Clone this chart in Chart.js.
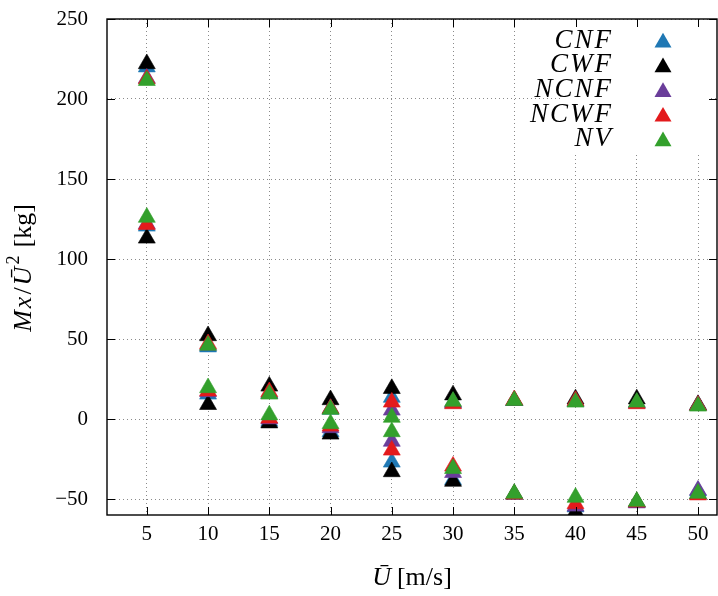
<!DOCTYPE html>
<html>
<head>
<meta charset="utf-8">
<script src="https://cdn.jsdelivr.net/npm/chart.js@4.4.1/dist/chart.umd.min.js"></script>
<style>
  html, body { margin: 0; padding: 0; background: #fff; }
  #chart { display: block; }
</style>
</head>
<body>
<canvas id="chart" width="718" height="596"></canvas>
<script>
const speeds = [5, 10, 15, 20, 25, 30, 35, 40, 45, 50];

// each case gives two branches per speed: an upper and a lower value
const cnfHigh  = [220, 45, 16, 6, 13.5, 10, 11.5, 11, 10, 8.5];
const cnfLow   = [120.5, 15.5, -1.5, -8, -27, -38, -47, -55, -52, -45];
const cwfHigh  = [222, 52, 20.5, 12, 19, 15, 11.5, 12.5, 12.5, 9];
const cwfLow   = [113, 9, -2.5, -9.5, -33, -39, -47, -58, -52, -47];
const ncnfHigh = [213, 46, 16, 6.5, 5.5, 10.5, 11.5, 11, 10, 8.5];
const ncnfLow  = [122, 17, 0, -5.5, -14, -33.5, -47, -54.5, -52.5, -44.5];
const ncwfHigh = [212.5, 47, 17, 6.5, 10.5, 9.5, 12, 11.5, 9.5, 8.5];
const ncwfLow  = [121.5, 17.5, 0.5, -4.5, -19.5, -29.5, -47, -53, -52, -47.5];
const nvHigh   = [211.5, 46, 15.5, 6, 1, 11, 11.5, 10.5, 10.5, 8];
const nvLow    = [126, 19.5, 2.5, -3, -8, -31, -46.5, -49, -51.5, -46.5];

const caseNames  = ["CNF", "CWF", "NCNF", "NCWF", "NV"];
const caseColors = ["#1f78b4", "#000000", "#6a3d9a", "#e31a1c", "#33a02c"];
const caseValues = [
  [cnfHigh, cnfLow],
  [cwfHigh, cwfLow],
  [ncnfHigh, ncnfLow],
  [ncwfHigh, ncwfLow],
  [nvHigh, nvLow],
];

const yTicks = [-50, 0, 50, 100, 150, 200, 250];

const serif = "'Liberation Serif', 'Times New Roman', serif";
const markerRadius = 9.8;

function toPoints(branches) {
  const pts = [];
  branches.forEach((vals) => {
    vals.forEach((v, i) => pts.push({ x: speeds[i], y: v }));
  });
  return pts;
}

// first dataset is painted last, so NV goes first to sit on top
const datasets = caseNames
  .map((name, i) => ({
    label: name,
    data: toPoints(caseValues[i]),
    pointStyle: "triangle",
    pointRadius: markerRadius,
    pointHoverRadius: markerRadius,
    backgroundColor: caseColors[i],
    borderColor: caseColors[i],
    borderWidth: 0.6,
    showLine: false,
    clip: 0,
  }))
  .reverse();

function triangle(ctx, x, y, r, color) {
  ctx.beginPath();
  ctx.moveTo(x, y - r);
  ctx.lineTo(x + r * Math.sin(Math.PI * 2 / 3), y + r * 0.5);
  ctx.lineTo(x - r * Math.sin(Math.PI * 2 / 3), y + r * 0.5);
  ctx.closePath();
  ctx.fillStyle = color;
  ctx.fill();
}

// draws a run of text pieces centred on the origin, baseline at 0
function richText(ctx, parts, size) {
  let total = 0;
  parts.forEach((p) => {
    const s = p.sup ? size * 0.7 : size;
    ctx.font = (p.it ? "italic " : "") + s + "px " + serif;
    p.w = ctx.measureText(p.t).width + (p.gap || 0);
    total += p.w;
  });
  let x = -total / 2;
  parts.forEach((p) => {
    const s = p.sup ? size * 0.7 : size;
    ctx.font = (p.it ? "italic " : "") + s + "px " + serif;
    ctx.fillText(p.t, x, p.sup ? -size * 0.45 : 0);
    x += p.w;
  });
}

const framePlugin = {
  id: "frame",
  beforeDatasetsDraw(chart) {
    // opaque key box over the grid
    const ctx = chart.ctx;
    ctx.save();
    ctx.fillStyle = "#fff";
    ctx.fillRect(562, 20, 146, 135);
    ctx.restore();
  },
  afterDraw(chart) {
    const ctx = chart.ctx;
    const a = chart.chartArea;
    const xs = chart.scales.x;
    const ys = chart.scales.y;
    const tl = 8;

    ctx.save();
    ctx.strokeStyle = "#000";
    ctx.lineWidth = 1;
    ctx.beginPath();
    xs.ticks.forEach((t) => {
      const px = Math.round(xs.getPixelForValue(t.value)) + 0.5;
      ctx.moveTo(px, a.bottom); ctx.lineTo(px, a.bottom - tl);
      ctx.moveTo(px, a.top); ctx.lineTo(px, a.top + tl);
    });
    ys.ticks.forEach((t) => {
      const py = Math.round(ys.getPixelForValue(t.value)) + 0.5;
      ctx.moveTo(a.left, py); ctx.lineTo(a.left + tl, py);
      ctx.moveTo(a.right, py); ctx.lineTo(a.right - tl, py);
    });
    ctx.stroke();

    ctx.lineWidth = 1.4;
    ctx.strokeRect(a.left, a.top, a.right - a.left, a.bottom - a.top);

    // key: label right-aligned, marker to its right
    ctx.textAlign = "left";
    ctx.textBaseline = "alphabetic";
    caseNames.forEach((name, i) => {
      const base = 47.5 + i * 24.7;
      ctx.font = "italic 27px " + serif;
      ctx.letterSpacing = "2px";
      const w = ctx.measureText(name).width;
      ctx.fillStyle = "#000";
      ctx.fillText(name, 613 - w, base);
      ctx.letterSpacing = "0px";
      triangle(ctx, 663, base - markerRadius * 0.5, markerRadius, caseColors[i]);
    });

    // axis titles
    ctx.fillStyle = "#000";
    ctx.save();
    ctx.translate((a.left + a.right) / 2, 585);
    richText(ctx, [
      { t: "\u016A", it: true, gap: 6 },
      { t: "[m/s]" },
    ], 26);
    ctx.restore();

    ctx.save();
    ctx.translate(31, 268);
    ctx.rotate(-Math.PI / 2);
    richText(ctx, [
      { t: "M", it: true, gap: 2 },
      { t: "x", it: true, gap: 2 },
      { t: "/", gap: 2 },
      { t: "\u016A", it: true, gap: 2 },
      { t: "2", sup: true, gap: 8 },
      { t: "[kg]" },
    ], 26);
    ctx.restore();

    ctx.restore();
  },
};

const gridStyle = {
  color: "#8a8a8a",
  lineWidth: 1,
  drawTicks: false,
};

// keep edge tick labels from shrinking the plot area
const noPadding = () => ({ left: 0, right: 0, top: 0, bottom: 0 });

new Chart(document.getElementById("chart"), {
  type: "scatter",
  data: { datasets },
  options: {
    responsive: false,
    animation: false,
    events: [],
    layout: {
      autoPadding: false,
      padding: { left: 0, right: 1, top: 19, bottom: 0 },
    },
    plugins: {
      legend: { display: false },
      tooltip: { enabled: false },
    },
    scales: {
      x: {
        type: "linear",
        min: 1.75,
        max: 51.55,
        border: { display: false, dash: [1, 3] },
        grid: gridStyle,
        ticks: {
          stepSize: 5,
          includeBounds: false,
          padding: 7,
          color: "#000",
          font: { family: serif, size: 21 },
        },
        afterFit(scale) {
          scale.height = 81;
          scale.paddingLeft = 0;
          scale.paddingRight = 0;
          scale.getPadding = noPadding;
        },
      },
      y: {
        type: "linear",
        min: -60,
        max: 250,
        border: { display: false, dash: [1, 3] },
        grid: gridStyle,
        afterBuildTicks(scale) {
          scale.ticks = yTicks.map((v) => ({ value: v }));
        },
        ticks: {
          padding: 19,
          color: "#000",
          font: { family: serif, size: 21 },
          callback: (v) => (v < 0 ? "\u2212" + Math.abs(v) : String(v)),
        },
        afterFit(scale) {
          scale.width = 107;
          scale.paddingTop = 0;
          scale.paddingBottom = 0;
          scale.getPadding = noPadding;
        },
      },
    },
  },
  plugins: [framePlugin],
});
</script>
</body>
</html>
